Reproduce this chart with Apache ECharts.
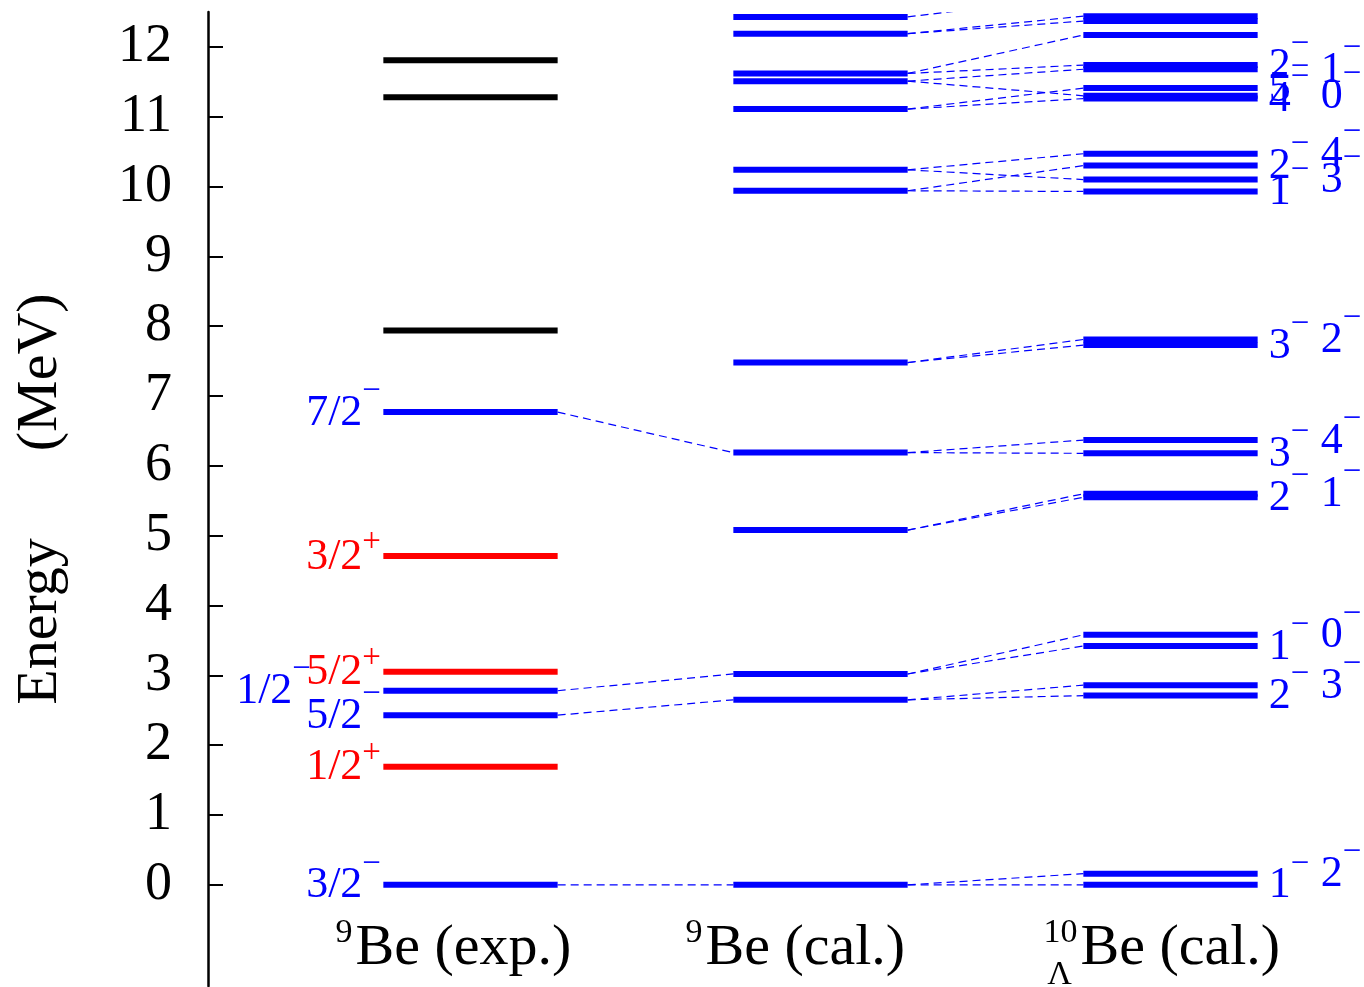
<!DOCTYPE html>
<html>
<head>
<meta charset="utf-8">
<script src="https://cdn.jsdelivr.net/npm/echarts@6/dist/echarts.min.js"></script>
<style>
html,body{margin:0;padding:0;background:#ffffff;}
#chart{width:1364px;height:987px;}
</style>
</head>
<body>
<div id="chart"></div>
<script>
// ---------------- data ----------------
const columnNames = ['Be (exp.)', 'Be (cal.)', 'Be (cal.)'];
const columnMassNumbers = ['9', '9', '10'];
const columnSubscripts = ['', '', 'Λ'];
const yTickValues = [0, 1, 2, 3, 4, 5, 6, 7, 8, 9, 10, 11, 12];

// 9Be experimental levels (MeV)
const expEnergies = [0, 1.69, 2.43, 2.78, 3.05, 4.71, 6.77, 7.94, 11.28, 11.81];
const expSpins    = ['3/2', '1/2', '5/2', '1/2', '5/2', '3/2', '7/2', '', '', ''];
const expParities = ['-', '+', '-', '-', '+', '+', '-', '?', '?', '?'];

// 9Be calculated levels (MeV)
const calEnergies = [0, 2.65, 3.02, 5.08, 6.19, 7.48, 9.94, 10.24, 11.11, 11.51, 11.62, 12.19, 12.43];

// 10_Lambda Be calculated levels (MeV)
const hypEnergies = [0, 0.16, 2.71, 2.86, 3.42, 3.58, 5.55, 5.60, 6.18, 6.37, 7.73, 7.81,
                     9.93, 10.10, 10.30, 10.47, 11.26, 11.30, 11.41, 11.68, 11.74, 12.17, 12.37, 12.44, 12.73];
const hypSpins    = ['1', '2', '2', '3', '1', '0', '2', '1', '3', '4', '3', '2',
                     '1', '3', '2', '4', '4', '0', '5', '1', '2', '', '', '', ''];
const hypLabelSlot = [0, 1, 0, 1, 0, 1, 0, 1, 0, 1, 0, 1,
                      0, 1, 0, 1, 0, 1, 0, 1, 0, 0, 0, 0, 0];

// correspondences (from energy, to energy)
const expToCal = [[6.77, 6.19], [2.78, 3.02], [2.43, 2.65], [0, 0]];
const calToHyp = [
  [0, 0], [0, 0.16],
  [2.65, 2.71], [2.65, 2.86],
  [3.02, 3.42], [3.02, 3.58],
  [5.08, 5.55], [5.08, 5.60],
  [6.19, 6.18], [6.19, 6.37],
  [7.48, 7.73], [7.48, 7.81],
  [9.94, 9.93], [9.94, 10.30],
  [10.24, 10.10], [10.24, 10.47],
  [11.11, 11.26], [11.11, 11.41],
  [11.51, 11.30], [11.51, 11.68],
  [11.62, 11.74], [11.62, 12.17],
  [12.19, 12.37], [12.19, 12.44],
  [12.43, 12.73]
];

// ---------------- styling ----------------
const BLUE = '#0000ff', RED = '#ff0000', BLACK = '#000000';
const SERIF = '"Liberation Serif","Times New Roman",serif';
const HALF = 0.249;
function parityColor(p) { return p === '-' ? BLUE : (p === '+' ? RED : BLACK); }
function supChar(p) { return p === '-' ? '\u2212' : '+'; }

const levelData = [];
expEnergies.forEach((e, i) => levelData.push([1, e, i, 0]));
calEnergies.forEach((e, i) => levelData.push([2, e, i, 1]));
hypEnergies.forEach((e, i) => levelData.push([3, e, i, 2]));

const linkData = [];
expToCal.forEach(d => linkData.push([1, d[0], 2, d[1]]));
calToHyp.forEach(d => linkData.push([2, d[0], 3, d[1]]));

const labelData = [];
expEnergies.forEach((e, i) => { if (expSpins[i]) labelData.push([1, e, i]); });
hypEnergies.forEach((e, i) => { if (hypSpins[i]) labelData.push([3, e, i]); });

const MAIN_FS = 44, SUP_FS = 33;
const SHIFTED_EXP_INDEX = 3;

function textEl(x, y, text, color, size, align) {
  return {
    type: 'text', x: x, y: y,
    style: { text: text, fill: color, fontSize: size, fontFamily: SERIF,
             align: align, verticalAlign: 'middle' }
  };
}

const chart = echarts.init(document.getElementById('chart'), null, { renderer: 'canvas' });
chart.setOption({
  animation: false,
  backgroundColor: '#ffffff',
  grid: { left: 208, top: 12, width: 1155, height: 974.1, containLabel: false },
  xAxis: { type: 'value', min: 0.25, max: 3.55, show: false },
  yAxis: {
    type: 'value', min: -1.45, max: 12.5,
    name: 'Energy      (MeV)', nameLocation: 'middle', nameRotate: 90, nameGap: 138,
    nameTextStyle: { fontFamily: SERIF, fontSize: 58, color: BLACK },
    axisLine: { show: true, lineStyle: { color: BLACK, width: 2.5 } },
    axisTick: { show: true, inside: true, length: 15, lineStyle: { color: BLACK, width: 2 }, customValues: yTickValues },
    axisLabel: { show: true, customValues: yTickValues, margin: 36, fontFamily: SERIF, fontSize: 54, color: BLACK },
    splitLine: { show: false }
  },
  series: [
    {
      type: 'custom', clip: true, silent: true,
      data: linkData,
      renderItem: function (params, api) {
        const p1 = api.coord([api.value(0) + HALF, api.value(1)]);
        const p2 = api.coord([api.value(2) - HALF, api.value(3)]);
        return { type: 'line', shape: { x1: p1[0], y1: p1[1], x2: p2[0], y2: p2[1] },
                 style: { stroke: BLUE, lineWidth: 1.2, lineDash: [8, 5] } };
      }
    },
    {
      type: 'custom', clip: true, silent: true,
      data: levelData,
      renderItem: function (params, api) {
        const c = api.value(0), e = api.value(1), i = api.value(2), g = api.value(3);
        const p1 = api.coord([c - HALF, e]);
        const p2 = api.coord([c + HALF, e]);
        const color = g === 0 ? parityColor(expParities[i]) : BLUE;
        return { type: 'line', shape: { x1: p1[0], y1: p1[1], x2: p2[0], y2: p2[1] },
                 style: { stroke: color, lineWidth: 6 } };
      }
    },
    {
      type: 'custom', clip: false, silent: true,
      data: labelData,
      renderItem: function (params, api) {
        const c = api.value(0), e = api.value(1), i = api.value(2);
        const children = [];
        if (c === 1) {
          const p = api.coord([c - HALF, e]);
          const par = expParities[i];
          const color = parityColor(par);
          let xr = p[0] - 21;
          if (i === SHIFTED_EXP_INDEX) xr -= 70;
          children.push(textEl(xr, p[1] + 1, expSpins[i], color, MAIN_FS, 'right'));
          children.push(textEl(xr, p[1] + (par === '-' ? -21 : -14), supChar(par), color, SUP_FS, 'left'));
        } else {
          const p = api.coord([c + HALF, e]);
          const x = p[0] + 11 + hypLabelSlot[i] * 52;
          children.push(textEl(x, p[1] + 1, hypSpins[i], BLUE, MAIN_FS, 'left'));
          children.push(textEl(x + 22, p[1] - 21, '\u2212', BLUE, SUP_FS, 'left'));
        }
        return { type: 'group', children: children };
      }
    },
    {
      type: 'custom', clip: false, silent: true,
      data: [[1, 0], [2, 1], [3, 2]],
      renderItem: function (params, api) {
        const c = api.value(0), k = api.value(1);
        const p = api.coord([c, -0.917]);
        const children = [];
        const hasSub = columnSubscripts[k] !== '';
        const xl = p[0] - (hasSub ? 90 : 115);
        children.push(textEl(xl, p[1], columnNames[k], BLACK, 58, 'left'));
        children.push(textEl(xl - 3, p[1] - 16, columnMassNumbers[k], BLACK, 34, 'right'));
        if (hasSub) {
          children.push(textEl(xl - 21, p[1] + 26, columnSubscripts[k], BLACK, 34, 'center'));
        }
        return { type: 'group', children: children };
      }
    }
  ]
});
</script>
</body>
</html>
